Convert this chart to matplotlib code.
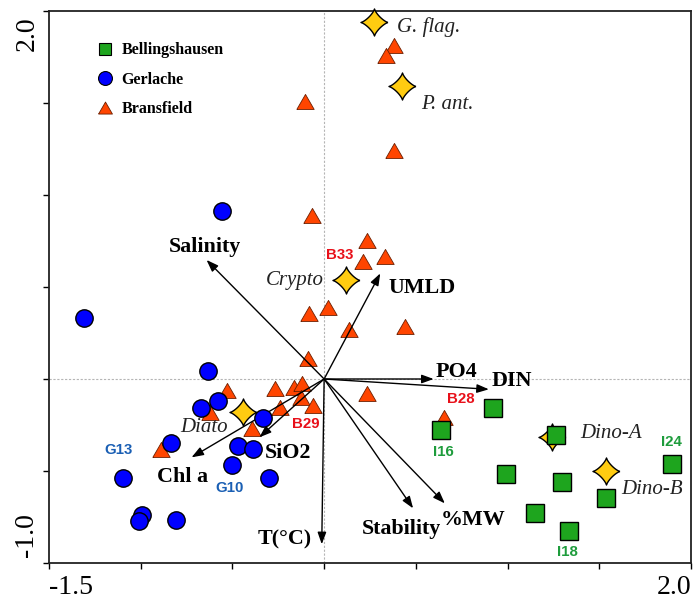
import numpy as np
import matplotlib
matplotlib.use('Agg')
import matplotlib.pyplot as plt
import matplotlib.transforms as mtransforms
from matplotlib.lines import Line2D

plt.rcParams['font.family'] = ['Liberation Serif', 'DejaVu Serif']

# Sample scores (RDA axis 1, axis 2)
bell_x = [0.922, 0.638, 1.262, 0.989, 1.299, 1.894, 1.539, 1.149, 1.335]
bell_y = [-0.159, -0.277, -0.304, -0.516, -0.558, -0.462, -0.645, -0.730, -0.824]

gerl_x = [-0.559, -1.311, -0.632, -0.578, -0.674, -0.332, -0.836, -0.472,
          -0.390, -0.505, -1.097, -0.301, -0.991, -1.011, -0.805]
gerl_y = [0.913, 0.333, 0.043, -0.118, -0.159, -0.214, -0.346, -0.362,
          -0.382, -0.467, -0.536, -0.536, -0.739, -0.772, -0.766]

bran_x = [0.379, 0.339, -0.105, 0.379, -0.064, 0.233, 0.211, 0.330, 0.020,
          -0.084, 0.137, 0.441, -0.089, 0.233, -0.270, -0.162, -0.122, -0.126,
          -0.058, -0.240, -0.395, 0.656, -0.532, -0.623, -0.891]
bran_y = [1.810, 1.755, 1.507, 1.241, 0.886, 0.752, 0.638, 0.661, 0.388,
          0.353, 0.266, 0.284, 0.109, -0.083, -0.056, -0.047, -0.027, -0.101,
          -0.145, -0.156, -0.273, -0.214, -0.063, -0.187, -0.386]

# Species scores
spec_names = ['G. flag.', 'P. ant.', 'Crypto', 'Diato', 'Dino-A', 'Dino-B']
spec_x = [0.270, 0.424, 0.120, -0.441, 1.244, 1.539]
spec_y = [1.942, 1.594, 0.538, -0.178, -0.317, -0.498]

# Environmental vectors
env_names = ['Salinity', 'UMLD', 'PO4', 'DIN', '%MW', 'Stability', 'T(°C)', 'SiO2', 'Chl a']
env_x = [-0.641, 0.306, 0.597, 0.898, 0.658, 0.485, -0.013, -0.353, -0.723]
env_y = [0.647, 0.574, 0.0, -0.056, -0.676, -0.703, -0.898, -0.317, -0.426]

# Station labels: (group, index of point, name)
site_labels = [('bran', 6, 'B33'), ('bran', 18, 'B29'), ('bran', 21, 'B28'),
               ('gerl', 10, 'G13'), ('gerl', 9, 'G10'),
               ('bell', 1, 'I16'), ('bell', 5, 'I24'), ('bell', 8, 'I18')]

# label offsets in points (layout only)
spec_off = [(17, -3.6), (13.7, -13.2), (-16.3, 0), (-10.8, -11.5), (19.9, 2.9), (10.3, -13.9)]
spec_ha = ['left', 'left', 'right', 'right', 'left', 'left']
env_off = [(-1, 9.6), (6, -10.8), (1.2, 5.3), (1.7, 6), (20.7, -12), (-8.6, -15.1),
           (-26.8, 3.1), (20.3, -11.5), (-6.8, -14)]
env_ha = ['center', 'left', 'left', 'left', 'center', 'center', 'center', 'center', 'center']
site_off = [(-16.8, 4.8), (-5.3, -13.4), (12, 13.9), (-3.1, 19.9), (-1.2, -16.3),
            (1.4, -15.6), (0, 16), (-1.2, -15.6)]
site_col = {'bran': '#e8101a', 'gerl': '#1a5fb4', 'bell': '#1e9c3c'}

# four-pointed star marker
t = np.linspace(0, 2 * np.pi, 73)
star = np.column_stack([np.sign(np.cos(t)) * np.abs(np.cos(t)) ** 2.6,
                        np.sign(np.sin(t)) * np.abs(np.sin(t)) ** 2.6])
tri = [(-1, -0.8), (1, -0.8), (0, 0.93), (-1, -0.8)]

fig = plt.figure(figsize=(6.93, 6.02), dpi=100)
ax = fig.add_axes([0.0707, 0.0648, 0.9264, 0.9169])

ax.axhline(0, color='#b5b5b5', lw=0.8, ls=(0, (2, 1.5)), zorder=0)
ax.axvline(0, color='#b5b5b5', lw=0.8, ls=(0, (2, 1.5)), zorder=0)

ax.plot(bran_x, bran_y, ls='none', marker=tri, ms=12.5, mfc='#ff4500',
        mec='#6b1e00', mew=0.6, zorder=2)

for x, y in zip(env_x, env_y):
    ax.annotate('', xy=(x, y), xytext=(0, 0),
                arrowprops=dict(arrowstyle='-|>,head_length=0.55,head_width=0.2',
                                mutation_scale=13, color='black', lw=1.0,
                                shrinkA=0, shrinkB=0), zorder=3)

ax.plot(spec_x, spec_y, ls='none', marker=star, ms=19.5, mfc='#ffcc11',
        mec='black', mew=1.0, zorder=4, clip_on=False)
ax.plot(gerl_x, gerl_y, ls='none', marker='o', ms=12.5, mfc='#0000ff',
        mec='black', mew=1.0, zorder=5)
ax.plot(bell_x, bell_y, ls='none', marker='s', ms=12.5, mfc='#1ea51e',
        mec='black', mew=1.0, zorder=6)

for i, name in enumerate(spec_names):
    ax.annotate(name, (spec_x[i], spec_y[i]), xytext=spec_off[i],
                textcoords='offset points', ha=spec_ha[i], va='center',
                fontsize=15, style='italic', color='#222222', zorder=7)

for i, name in enumerate(env_names):
    ax.annotate(name, (env_x[i], env_y[i]), xytext=env_off[i],
                textcoords='offset points', ha=env_ha[i], va='center',
                fontsize=15.8, fontweight='bold', zorder=7)

groups = {'bran': (bran_x, bran_y), 'gerl': (gerl_x, gerl_y), 'bell': (bell_x, bell_y)}
for (g, idx, name), off in zip(site_labels, site_off):
    gx, gy = groups[g]
    ax.annotate(name, (gx[idx], gy[idx]), xytext=off, textcoords='offset points',
                ha='center', va='center', fontsize=10.8, fontweight='bold',
                family='Liberation Sans', color=site_col[g], zorder=7)

handles = [Line2D([], [], ls='none', marker='s', ms=8, mfc='#1ea51e', mec='black', mew=0.8),
           Line2D([], [], ls='none', marker='o', ms=10, mfc='#0000ff', mec='black', mew=0.8),
           Line2D([], [], ls='none', marker=tri, ms=10, mfc='#ff4500', mec='#6b1e00', mew=0.6)]
ax.legend(handles, ['Bellingshausen', 'Gerlache', 'Bransfield'], loc='upper left',
          bbox_to_anchor=(0.063, 0.958), frameon=False, handlelength=1.0,
          handletextpad=0.5, labelspacing=0.85, borderpad=0,
          prop={'weight': 'bold', 'size': 11.5})

ax.set_xlim(-1.5, 2.0)
ax.set_ylim(-1.0, 2.0)
ax.set_xticks(np.arange(-1.5, 2.01, 0.5))
ax.set_yticks(np.arange(-1.0, 2.01, 0.5))
ax.set_xticklabels(['-1.5', '', '', '', '', '', '', '2.0'])
ax.set_yticklabels(['-1.0', '', '', '', '', '', '2.0'], rotation=90)
ax.tick_params(direction='out', length=4, width=1.0, labelsize=20)
ax.tick_params(axis='x', pad=5)
ax.tick_params(axis='y', pad=3)
xl = ax.get_xticklabels()
xl[0].set_ha('left')
xl[-1].set_ha('right')
yl = ax.get_yticklabels()
yl[0].set_va('bottom')
yl[-1].set_va('top')
yl[0].set_transform(yl[0].get_transform() +
                    mtransforms.ScaledTranslation(0, 4 / 72, fig.dpi_scale_trans))
yl[-1].set_transform(yl[-1].get_transform() +
                     mtransforms.ScaledTranslation(0, -4 / 72, fig.dpi_scale_trans))
for s in ax.spines.values():
    s.set_linewidth(1.3)
    s.set_color('#222222')

fig.savefig('out.png', dpi=100)
